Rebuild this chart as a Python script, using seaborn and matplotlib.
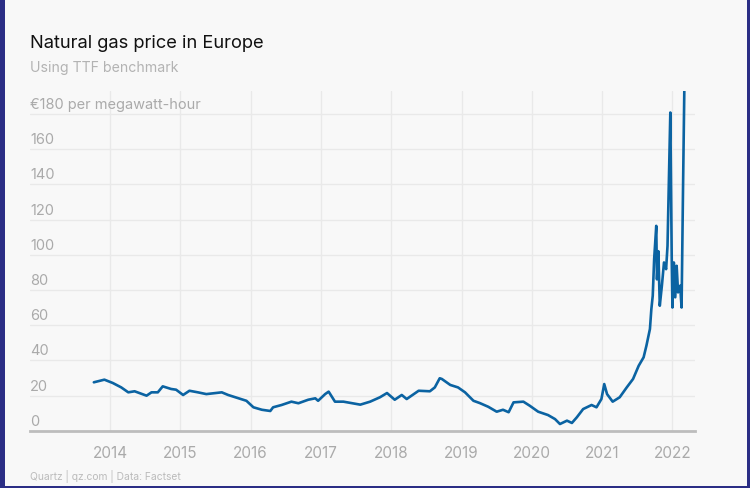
import matplotlib
matplotlib.use('Agg')
import matplotlib.pyplot as plt
import seaborn as sns
import pandas as pd
from matplotlib.patches import Rectangle

# === Datos (año decimal, EUR/MWh) ===
anios = [2013.77, 2013.92, 2014.04, 2014.16, 2014.26, 2014.35, 2014.52, 2014.59,
         2014.68, 2014.75, 2014.87, 2014.94, 2015.04, 2015.13, 2015.25, 2015.37,
         2015.59, 2015.68, 2015.83, 2015.94, 2016.04, 2016.16, 2016.28, 2016.32,
         2016.44, 2016.58, 2016.68, 2016.82, 2016.92, 2016.96, 2017.06, 2017.11,
         2017.20, 2017.32, 2017.56, 2017.70, 2017.84, 2017.94, 2018.05, 2018.15,
         2018.22, 2018.39, 2018.55, 2018.62, 2018.69, 2018.72, 2018.84, 2018.95,
         2019.05, 2019.17, 2019.26, 2019.38, 2019.50, 2019.59, 2019.67, 2019.74,
         2019.88, 2019.97, 2020.09, 2020.23, 2020.33, 2020.40, 2020.50, 2020.57,
         2020.64, 2020.73, 2020.85, 2020.92, 2020.99, 2021.03, 2021.07, 2021.15,
         2021.25, 2021.35, 2021.44, 2021.52, 2021.59, 2021.63, 2021.68, 2021.70,
         2021.72, 2021.74, 2021.77, 2021.78, 2021.80, 2021.82, 2021.85, 2021.88,
         2021.91, 2021.93, 2021.95, 2021.97, 2021.99, 2022.00, 2022.02, 2022.04,
         2022.06, 2022.08, 2022.11, 2022.13, 2022.15, 2022.18]
precios = [27.5, 29.0, 27.1, 24.6, 21.8, 22.4, 19.9, 21.8,
           21.8, 25.2, 23.7, 23.3, 20.3, 22.7, 21.8, 20.8,
           21.8, 20.3, 18.4, 17.0, 13.3, 11.9, 11.2, 13.3,
           14.6, 16.5, 15.6, 17.6, 18.4, 17.0, 20.8, 22.2,
           16.5, 16.5, 14.8, 16.5, 19.0, 21.4, 17.6, 20.3,
           18.0, 22.7, 22.4, 24.6, 29.8, 29.4, 26.0, 24.6,
           21.8, 17.0, 15.7, 13.6, 10.8, 11.9, 10.5, 16.1,
           16.5, 14.2, 10.8, 8.9, 6.6, 3.8, 5.7, 4.4,
           7.6, 12.3, 14.6, 13.3, 18.0, 26.5, 20.8, 16.5,
           19.0, 24.6, 29.4, 36.9, 41.7, 48.3, 57.8, 69.0,
           76.7, 97.5, 116.4, 86.0, 102.0, 71.0, 82.4, 95.6,
           91.8, 105.0, 143.0, 180.8, 97.5, 70.0, 95.6, 75.8,
           93.7, 78.6, 82.4, 70.0, 135.4, 227.0]

años_ticks = [2014, 2015, 2016, 2017, 2018, 2019, 2020, 2021, 2022]
valores_y = [0, 20, 40, 60, 80, 100, 120, 140, 160, 180]

datos = pd.DataFrame({'anio': anios, 'precio': precios})

# === Estilo ===
fondo = '#f8f8f8'
sns.set_style('white', {'axes.facecolor': fondo, 'figure.facecolor': fondo})
plt.rcParams['font.family'] = ['Inter', 'DejaVu Sans']

fig = plt.figure(figsize=(7.5, 4.89), dpi=100, facecolor='#2b2e85')
fig.patches.append(Rectangle((5 / 750, 2 / 489), 742 / 750, 486 / 489,
                             transform=fig.transFigure, facecolor=fondo,
                             edgecolor='none', zorder=-10))
ax = fig.add_axes([30 / 750, (489 - 431.7) / 489, 665 / 750, 340 / 489])
ax.set_facecolor(fondo)

sns.lineplot(data=datos, x='anio', y='precio', color='#0b63a2', linewidth=1.9, ax=ax)

ax.set_xlim(2012.862, 2022.321)
ax.set_ylim(0, 193.2)
ax.set_xticks(años_ticks)
ax.set_xticklabels([str(a) for a in años_ticks], color='#aaaaaa', fontsize=11)
ax.set_yticks(valores_y)
ax.set_yticklabels([])
ax.tick_params(axis='both', length=0)
ax.tick_params(axis='x', pad=10)
ax.grid(True, color='#e9e9e9', linewidth=1)
ax.set_axisbelow(True)
for lado in ['top', 'right', 'left']:
    ax.spines[lado].set_visible(False)
ax.spines['bottom'].set_color('#bdbdbd')
ax.spines['bottom'].set_linewidth(2)
ax.set_xlabel('')
ax.set_ylabel('')

# etiquetas del eje y sobre las lineas de la grilla
for v in valores_y:
    texto = '€180 per megawatt-hour' if v == 180 else str(v)
    ax.annotate(texto, xy=(0, v), xycoords=ax.get_yaxis_transform(),
                xytext=(0, 7.2), textcoords='offset points',
                ha='left', va='center', color='#aaaaaa', fontsize=10.5)

fig.text(30 / 750, 1 - 44 / 489, 'Natural gas price in Europe', fontsize=13.2,
         color='#111111', ha='left', va='center')
fig.text(30 / 750, 1 - 68 / 489, 'Using TTF benchmark', fontsize=10.2,
         color='#b3b3b3', ha='left', va='center')
fig.text(30 / 750, 1 - 476.7 / 489, 'Quartz | qz.com | Data: Factset', fontsize=7.4,
         color='#bbbbbb', ha='left', va='center')

fig.savefig('out.png', dpi=100, facecolor=fig.get_facecolor())
